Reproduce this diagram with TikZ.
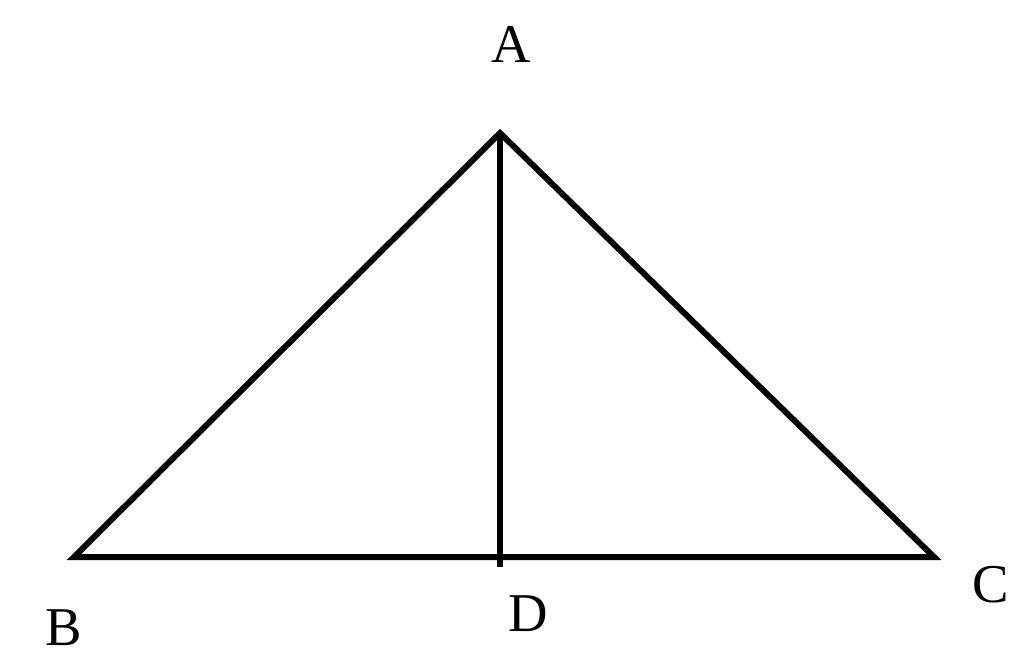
\documentclass[tikz,border=0pt]{standalone}
\usepackage{fontspec}
\setmainfont{Liberation Serif}
\begin{document}
\begin{tikzpicture}[x=0.75pt,y=-0.75pt,
  edge/.style={line width=4.5pt,line join=miter},
  lbl/.style={anchor=base,inner sep=0pt,font=\fontsize{41}{41}\selectfont}]
\useasboundingbox (0,0) rectangle (1024,667);
\coordinate (A) at (500,133);
\coordinate (B) at (74,557);
\coordinate (C) at (934,557);
\coordinate (D) at (500,557);
\coordinate (Dend) at (500,567);
\draw[edge] (B) -- (A) -- (C) -- cycle;
\draw[edge] (A) -- (Dend);
\node[lbl] (lA) at (511,63) {A};
\node[lbl] (lB) at (64,645) {B};
\node[lbl] (lD) at (528,631) {D};
\node[lbl] (lC) at (991,602) {C};
\end{tikzpicture}
\end{document}
